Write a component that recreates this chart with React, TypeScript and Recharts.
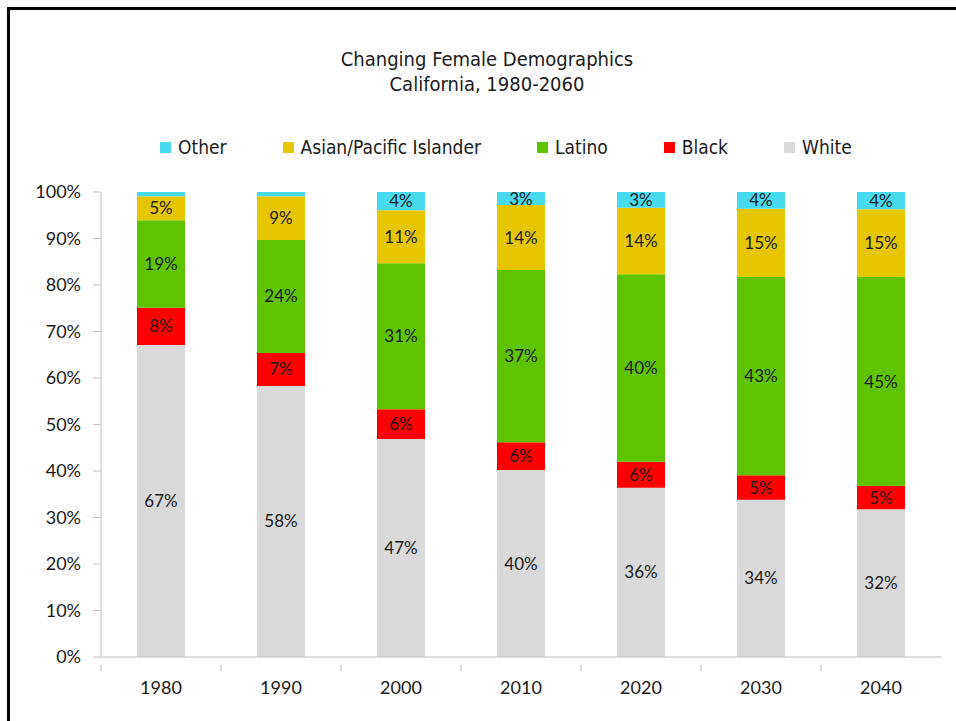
import { BarChart, Bar, XAxis, YAxis, LabelList } from "recharts"

const years = ["1980", "1990", "2000", "2010", "2020", "2030", "2040"]

// percent of female population, bottom to top of each stack
const white = [67.1, 58.3, 46.9, 40.2, 36.4, 33.8, 31.8]
const black = [8.0, 7.1, 6.4, 6.0, 5.6, 5.3, 5.0]
const latino = [18.8, 24.3, 31.4, 37.0, 40.3, 42.6, 44.9]
const asian = [5.2, 9.4, 11.4, 14.0, 14.3, 14.7, 14.6]
const other = [0.9, 0.9, 3.9, 2.8, 3.4, 3.6, 3.7]

const yTicks = [0, 10, 20, 30, 40, 50, 60, 70, 80, 90, 100]

const SERIES = [
  { key: "White", values: white, color: "#d9d9d9" },
  { key: "Black", values: black, color: "#ff0000" },
  { key: "Latino", values: latino, color: "#5fc400" },
  { key: "Asian/Pacific Islander", values: asian, color: "#e6c600" },
  { key: "Other", values: other, color: "#47d9ee" },
]

const data = years.map((year, i) => {
  const row: Record<string, string | number> = { year }
  SERIES.forEach((s) => (row[s.key] = s.values[i]))
  return row
})

const LABEL_FONT = "Lato, 'Open Sans', sans-serif"
const NARROW_FONT = "'Liberation Sans Narrow', 'DejaVu Sans Condensed', 'Roboto Condensed', 'Liberation Sans', sans-serif"

const XTick = (props: any) => {
  const { x, y, payload } = props
  return (
    <g>
      <line x1={x - 60} x2={x - 60} y1={y} y2={y + 6} stroke="#bfbfbf" />
      <text x={x} y={y + 24} textAnchor="middle" dominantBaseline="middle" fontSize={18} fill="#1a1a1a" fontFamily={LABEL_FONT}>
        {payload.value}
      </text>
    </g>
  )
}

const fmt = (v: any) => (Number(v) >= 2 ? `${Math.round(Number(v))}%` : "")

export default function App() {
  return (
    <div style={{ position: "fixed", left: 0, top: 0, width: 956, height: 721, overflow: "hidden", background: "#fff" }}>
      <div style={{ position: "absolute", left: 7, top: 7, width: 1000, height: 800, border: "3px solid #000" }} />
      <div
        style={{
          position: "absolute",
          left: 0,
          width: 974,
          top: 47,
          textAlign: "center",
          fontFamily: NARROW_FONT,
          fontSize: 20,
          lineHeight: "25px",
          color: "#1a1a1a",
        }}
      >
        Changing Female Demographics
        <br />
        California, 1980-2060
      </div>
      <div
        style={{
          position: "absolute",
          left: 160,
          top: 134,
          display: "flex",
          gap: 56,
          fontFamily: NARROW_FONT,
          fontSize: 19,
          lineHeight: "26px",
          color: "#1a1a1a",
        }}
      >
        {[...SERIES].reverse().map((s) => (
          <div key={s.key} style={{ display: "flex", alignItems: "center" }}>
            <span style={{ display: "inline-block", width: 11, height: 11, background: s.color, marginRight: 7 }} />
            {s.key}
          </div>
        ))}
      </div>
      <BarChart
        width={956}
        height={721}
        data={data}
        margin={{ top: 192, right: 15, bottom: 34, left: 0 }}
        barSize={48}
        style={{ position: "absolute", left: 0, top: 0 }}
      >
        <XAxis dataKey="year" height={30} axisLine={{ stroke: "#bfbfbf" }} tickLine={false} tick={<XTick />} interval={0} />
        <YAxis
          width={101}
          domain={[0, 100]}
          ticks={yTicks}
          allowDataOverflow
          tickFormatter={(v) => `${v}%`}
          axisLine={{ stroke: "#bfbfbf" }}
          tickLine={{ stroke: "#bfbfbf" }}
          tickSize={8}
          tickMargin={12}
          tick={{ fontSize: 18, fill: "#1a1a1a", fontFamily: LABEL_FONT }}
        />
        {SERIES.map((s) => (
          <Bar key={s.key} dataKey={s.key} stackId="a" fill={s.color} isAnimationActive={false}>
            <LabelList
              dataKey={s.key}
              position="center"
              formatter={fmt}
              style={{ fontSize: 17, fill: "#1a1a1a", fontFamily: LABEL_FONT }}
            />
          </Bar>
        ))}
      </BarChart>
    </div>
  )
}
